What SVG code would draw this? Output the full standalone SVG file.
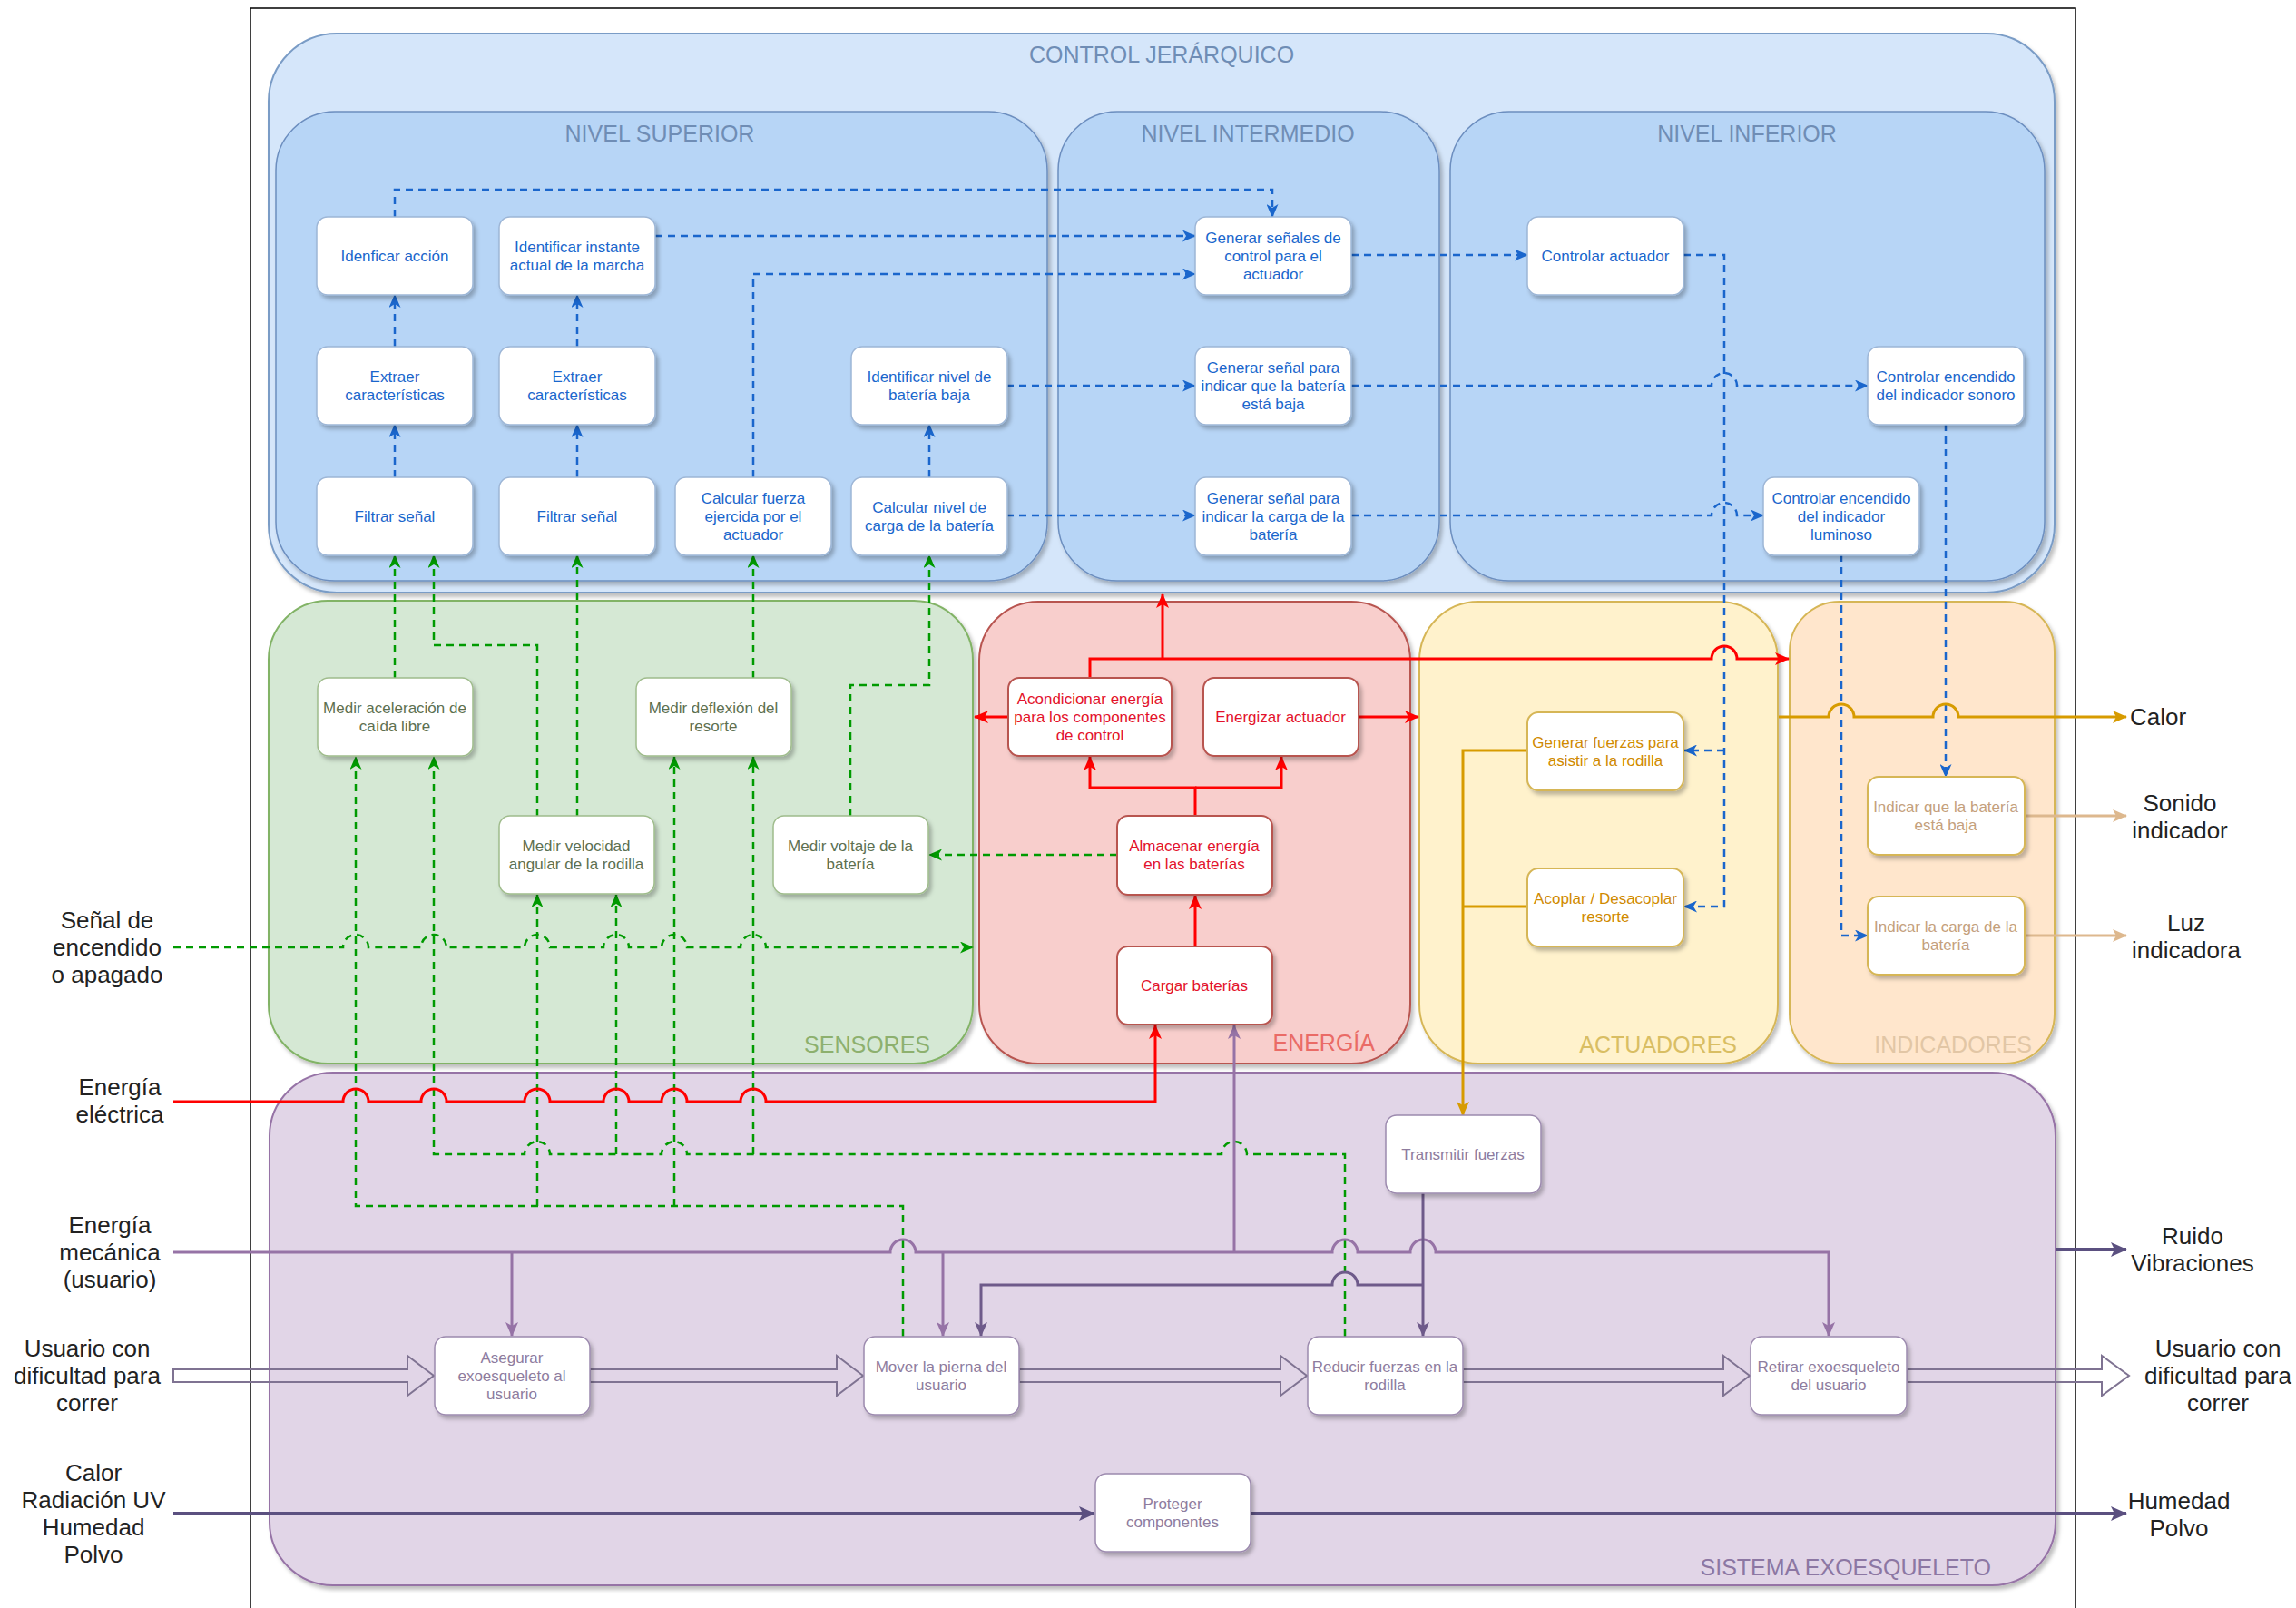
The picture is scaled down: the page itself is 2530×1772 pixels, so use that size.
<svg xmlns="http://www.w3.org/2000/svg" width="2530" height="1772" viewBox="0 0 2530 1772">
<style>
text{font-family:"Liberation Sans",Arial,sans-serif}
.cont{filter:url(#sh)}
.node rect{fill:#fff;filter:url(#sh)}
.node text{font-size:17px;text-anchor:middle}
.ctl rect{stroke:#9DB6D6;stroke-width:1.5}
.ctl text{fill:#1A66CC}
.sen rect{stroke:#9FBC8C;stroke-width:1.5}
.sen text{fill:#5D7050}
.ene rect{stroke:#B85450;stroke-width:2}
.ene text{fill:#E3122B}
.act rect{stroke:#D6B656;stroke-width:2}
.act text{fill:#D08A00}
.ind rect{stroke:#D6B656;stroke-width:2}
.ind text{fill:#C4A07C}
.sys rect{stroke:#9C8AAE;stroke-width:1.5}
.sys text{fill:#8E7C9E}
.clab{font-size:25px}
.olab{font-size:26px;fill:#222;text-anchor:middle}
.c{fill:none}
.cb{stroke:#1A66CC;stroke-width:2.5;stroke-dasharray:8 6}
.cg{stroke:#009A00;stroke-width:2.5;stroke-dasharray:8 6}
.cr{stroke:#FF0000;stroke-width:3}
.cp{stroke:#9673A6;stroke-width:3}
.cd{stroke:#6E5A8A;stroke-width:3}
.ck{stroke:#5B5080;stroke-width:4}
.co{stroke:#D79B00;stroke-width:3}
.ct{stroke:#DDB88E;stroke-width:3}
.ha{fill:none;stroke:#7F7392;stroke-width:2}
</style>
<defs>
<filter id="sh" x="-10%" y="-10%" width="125%" height="125%">
<feDropShadow dx="3" dy="4" stdDeviation="2" flood-color="#000" flood-opacity="0.25"/>
</filter>
<marker id="ab" viewBox="0 0 15 13" refX="14" refY="6.5" markerWidth="15" markerHeight="13" orient="auto" markerUnits="userSpaceOnUse"><path d="M0,0 L15,6.5 L0,13 L4,6.5 Z" fill="#1A66CC"/></marker>
<marker id="ag" viewBox="0 0 15 13" refX="14" refY="6.5" markerWidth="15" markerHeight="13" orient="auto" markerUnits="userSpaceOnUse"><path d="M0,0 L15,6.5 L0,13 L4,6.5 Z" fill="#009A00"/></marker>
<marker id="ar" viewBox="0 0 16 14" refX="15" refY="7" markerWidth="16" markerHeight="14" orient="auto" markerUnits="userSpaceOnUse"><path d="M0,0 L16,7 L0,14 L4,7 Z" fill="#FF0000"/></marker>
<marker id="ap" viewBox="0 0 16 14" refX="15" refY="7" markerWidth="16" markerHeight="14" orient="auto" markerUnits="userSpaceOnUse"><path d="M0,0 L16,7 L0,14 L4,7 Z" fill="#9673A6"/></marker>
<marker id="ad" viewBox="0 0 16 14" refX="15" refY="7" markerWidth="16" markerHeight="14" orient="auto" markerUnits="userSpaceOnUse"><path d="M0,0 L16,7 L0,14 L4,7 Z" fill="#6E5A8A"/></marker>
<marker id="ak" viewBox="0 0 18 16" refX="17" refY="8" markerWidth="18" markerHeight="16" orient="auto" markerUnits="userSpaceOnUse"><path d="M0,0 L18,8 L0,16 L4,8 Z" fill="#5B5080"/></marker>
<marker id="ao" viewBox="0 0 16 14" refX="15" refY="7" markerWidth="16" markerHeight="14" orient="auto" markerUnits="userSpaceOnUse"><path d="M0,0 L16,7 L0,14 L4,7 Z" fill="#D79B00"/></marker>
<marker id="at" viewBox="0 0 16 14" refX="15" refY="7" markerWidth="16" markerHeight="14" orient="auto" markerUnits="userSpaceOnUse"><path d="M0,0 L16,7 L0,14 L4,7 Z" fill="#DDB88E"/></marker>
</defs>
<rect width="2530" height="1772" fill="#fff"/>
<path d="M276,1772 V9 H2287 V1772" fill="none" stroke="#000" stroke-width="1.5"/>

<g id="containers">
<g id="g-control"><rect class="cont" x="296" y="37" width="1968" height="616" rx="75" fill="#D5E6FA" stroke="#7A9CC6" stroke-width="2"/>
<text class="clab" x="1280" y="69" text-anchor="middle" fill="#6F8DB5">CONTROL JERÁRQUICO</text></g>
<g id="g-superior"><rect class="cont" x="304" y="123" width="850" height="517" rx="65" fill="#B7D5F6" stroke="#6C8EBF" stroke-width="1.5"/>
<text class="clab" x="727" y="156" text-anchor="middle" fill="#6F8DB5">NIVEL SUPERIOR</text></g>
<g id="g-intermedio"><rect class="cont" x="1166" y="123" width="420" height="517" rx="65" fill="#B7D5F6" stroke="#6C8EBF" stroke-width="1.5"/>
<text class="clab" x="1375" y="156" text-anchor="middle" fill="#6F8DB5">NIVEL INTERMEDIO</text></g>
<g id="g-inferior"><rect class="cont" x="1598" y="123" width="655" height="517" rx="65" fill="#B7D5F6" stroke="#6C8EBF" stroke-width="1.5"/>
<text class="clab" x="1925" y="156" text-anchor="middle" fill="#6F8DB5">NIVEL INFERIOR</text></g>
<g id="g-sensores"><rect class="cont" x="296" y="662" width="776" height="510" rx="65" fill="#D5E8D4" stroke="#82B366" stroke-width="2"/>
<text class="clab" x="1025" y="1160" text-anchor="end" fill="#8DB06E">SENSORES</text></g>
<g id="g-energia"><rect class="cont" x="1079" y="663" width="475" height="509" rx="65" fill="#F8CECC" stroke="#B85450" stroke-width="2"/>
<text class="clab" x="1515" y="1158" text-anchor="end" fill="#EA6B66">ENERGÍA</text></g>
<g id="g-actuadores"><rect class="cont" x="1564" y="663" width="395" height="509" rx="65" fill="#FFF2CC" stroke="#D6B656" stroke-width="2"/>
<text class="clab" x="1914" y="1160" text-anchor="end" fill="#D9BE63">ACTUADORES</text></g>
<g id="g-indicadores"><rect class="cont" x="1972" y="663" width="292" height="509" rx="55" fill="#FFE6CC" stroke="#D6B656" stroke-width="2"/>
<text class="clab" x="2239" y="1160" text-anchor="end" fill="#E2C6A5">INDICADORES</text></g>
<g id="g-sistema"><rect class="cont" x="297" y="1182" width="1968" height="565" rx="70" fill="#E1D5E7" stroke="#9673A6" stroke-width="2"/>
<text class="clab" x="2194" y="1736" text-anchor="end" fill="#8C77A3">SISTEMA EXOESQUELETO</text></g>
</g>

<g id="connectors" class="c">
<path class="c cb" marker-end="url(#ab)" d="M435,239 V209 H1402 V239"/>
<path class="c cb" marker-end="url(#ab)" d="M722,260 H1317"/>
<path class="c cb" marker-end="url(#ab)" d="M830,526 V302 H1317"/>
<path class="c cb" marker-end="url(#ab)" d="M435,382 V325"/>
<path class="c cb" marker-end="url(#ab)" d="M435,526 V468"/>
<path class="c cb" marker-end="url(#ab)" d="M636,382 V325"/>
<path class="c cb" marker-end="url(#ab)" d="M636,526 V468"/>
<path class="c cb" marker-end="url(#ab)" d="M1024,526 V468"/>
<path class="c cb" marker-end="url(#ab)" d="M1109,425 H1317"/>
<path class="c cb" marker-end="url(#ab)" d="M1109,568 H1317"/>
<path class="c cb" marker-end="url(#ab)" d="M1489,281 H1683"/>
<path class="c cb" marker-end="url(#ab)" d="M1489,425 H1886 A14,14 0 0 1 1914,425 H2058"/>
<path class="c cb" marker-end="url(#ab)" d="M1489,568 H1886 A14,14 0 0 1 1914,568 H1943"/>
<path class="c cb" marker-end="url(#ab)" d="M1855,281 H1900 V999 H1856"/>
<path class="c cb" marker-end="url(#ab)" d="M1900,827 H1856"/>
<path class="c cb" marker-end="url(#ab)" d="M2144,467 V856"/>
<path class="c cb" marker-end="url(#ab)" d="M2029,611 V1031 H2058"/>
<path class="c cg" marker-end="url(#ag)" d="M435,747 V612"/>
<path class="c cg" marker-end="url(#ag)" d="M592,899 V711 H478 V612"/>
<path class="c cg" marker-end="url(#ag)" d="M636,899 V612"/>
<path class="c cg" marker-end="url(#ag)" d="M830,747 V612"/>
<path class="c cg" marker-end="url(#ag)" d="M937,899 V755 H1024 V612"/>
<path class="c cg" marker-end="url(#ag)" d="M1231,942 H1024"/>
<path class="c cg" marker-end="url(#ag)" d="M191,1044 H378 A14,14 0 0 1 406,1044 H464 A14,14 0 0 1 492,1044 H578 A14,14 0 0 1 606,1044 H665 A14,14 0 0 1 693,1044 H729 A14,14 0 0 1 757,1044 H816 A14,14 0 0 1 844,1044 H1072"/>
<path class="c cg" marker-end="url(#ag)" d="M995,1473 V1329 H392 V834"/>
<path class="c cg" marker-end="url(#ag)" d="M592,1329 V986"/>
<path class="c cg" marker-end="url(#ag)" d="M743,1329 V834"/>
<path class="c cg" marker-end="url(#ag)" d="M1482,1473 V1272 H1374 A14,14 0 0 0 1346,1272 H757 A14,14 0 0 0 729,1272 H606 A14,14 0 0 0 578,1272 H478 V834"/>
<path class="c cg" marker-end="url(#ag)" d="M679,1272 V986"/>
<path class="c cg" marker-end="url(#ag)" d="M830,1272 V834"/>
<path class="c cr" marker-end="url(#ar)" d="M191,1214 H378 A14,14 0 0 1 406,1214 H464 A14,14 0 0 1 492,1214 H578 A14,14 0 0 1 606,1214 H665 A14,14 0 0 1 693,1214 H729 A14,14 0 0 1 757,1214 H816 A14,14 0 0 1 844,1214 H1273 V1130"/>
<path class="c cr" marker-end="url(#ar)" d="M1317,1043 V987"/>
<path class="c cr" marker-end="url(#ar)" d="M1317,899 V868 H1201 V834"/>
<path class="c cr" marker-end="url(#ar)" d="M1317,868 H1412 V834"/>
<path class="c cr" marker-end="url(#ar)" d="M1201,747 V726 H1886 A14,14 0 0 1 1914,726 H1971"/>
<path class="c cr" marker-end="url(#ar)" d="M1281,726 V655"/>
<path class="c cr" marker-end="url(#ar)" d="M1111,790 H1074"/>
<path class="c cr" marker-end="url(#ar)" d="M1497,790 H1563"/>
<path class="c co" marker-end="url(#ao)" d="M1683,827 H1612 V1229"/>
<path class="c co" d="M1683,999 H1612"/>
<path class="c co" marker-end="url(#ao)" d="M1960,790 H2015 A14,14 0 0 1 2043,790 H2130 A14,14 0 0 1 2158,790 H2343"/>
<path class="c ct" marker-end="url(#at)" d="M2231,899 H2343"/>
<path class="c ct" marker-end="url(#at)" d="M2231,1031 H2343"/>
<path class="c cp" marker-end="url(#ap)" d="M191,1380 H981 A14,14 0 0 1 1009,1380 H1468 A14,14 0 0 1 1496,1380 H1554 A14,14 0 0 1 1582,1380 H2015 V1472"/>
<path class="c cp" marker-end="url(#ap)" d="M564,1380 V1472"/>
<path class="c cp" marker-end="url(#ap)" d="M1039,1380 V1472"/>
<path class="c cp" marker-end="url(#ap)" d="M1360,1380 V1130"/>
<path class="c cd" marker-end="url(#ad)" d="M1568,1315 V1472"/>
<path class="c cd" marker-end="url(#ad)" d="M1568,1416 H1496 A14,14 0 0 0 1468,1416 H1081 V1472"/>
<path class="c ck" marker-end="url(#ak)" d="M191,1668 H1206"/>
<path class="c ck" marker-end="url(#ak)" d="M1378,1668 H2343"/>
<path class="c ck" marker-end="url(#ak)" d="M2265,1377 H2343"/>
<path class="ha" d="M191,1509 H449 V1494 L478,1516 L449,1538 V1523 H191 Z"/>
<path class="ha" d="M650,1509 H922 V1494 L951,1516 L922,1538 V1523 H650 Z"/>
<path class="ha" d="M1123,1509 H1411 V1494 L1440,1516 L1411,1538 V1523 H1123 Z"/>
<path class="ha" d="M1612,1509 H1899 V1494 L1928,1516 L1899,1538 V1523 H1612 Z"/>
<path class="ha" d="M2101,1509 H2316 V1494 L2346,1516 L2316,1538 V1523 H2101 Z"/>
</g>

<g id="n-idenficar" class="node ctl"><rect x="349" y="239" width="172" height="86" rx="12"/><text x="435" y="288">Idenficar acción</text></g>
<g id="n-instante" class="node ctl"><rect x="550" y="239" width="172" height="86" rx="12"/><text x="636" y="278">Identificar instante<tspan x="636" dy="20">actual de la marcha</tspan></text></g>
<g id="n-extraer1" class="node ctl"><rect x="349" y="382" width="172" height="86" rx="12"/><text x="435" y="421">Extraer<tspan x="435" dy="20">características</tspan></text></g>
<g id="n-extraer2" class="node ctl"><rect x="550" y="382" width="172" height="86" rx="12"/><text x="636" y="421">Extraer<tspan x="636" dy="20">características</tspan></text></g>
<g id="n-identbaja" class="node ctl"><rect x="938" y="382" width="172" height="86" rx="12"/><text x="1024" y="421">Identificar nivel de<tspan x="1024" dy="20">batería baja</tspan></text></g>
<g id="n-filtrar1" class="node ctl"><rect x="349" y="526" width="172" height="86" rx="12"/><text x="435" y="575">Filtrar señal</text></g>
<g id="n-filtrar2" class="node ctl"><rect x="550" y="526" width="172" height="86" rx="12"/><text x="636" y="575">Filtrar señal</text></g>
<g id="n-calcfuerza" class="node ctl"><rect x="744" y="526" width="172" height="86" rx="12"/><text x="830" y="555">Calcular fuerza<tspan x="830" dy="20">ejercida por el</tspan><tspan x="830" dy="20">actuador</tspan></text></g>
<g id="n-calcnivel" class="node ctl"><rect x="938" y="526" width="172" height="86" rx="12"/><text x="1024" y="565">Calcular nivel de<tspan x="1024" dy="20">carga de la batería</tspan></text></g>
<g id="n-gencontrol" class="node ctl"><rect x="1317" y="239" width="172" height="86" rx="12"/><text x="1403" y="268">Generar señales de<tspan x="1403" dy="20">control para el</tspan><tspan x="1403" dy="20">actuador</tspan></text></g>
<g id="n-genbaja" class="node ctl"><rect x="1317" y="382" width="172" height="86" rx="12"/><text x="1403" y="411">Generar señal para<tspan x="1403" dy="20">indicar que la batería</tspan><tspan x="1403" dy="20">está baja</tspan></text></g>
<g id="n-gencarga" class="node ctl"><rect x="1317" y="526" width="172" height="86" rx="12"/><text x="1403" y="555">Generar señal para<tspan x="1403" dy="20">indicar la carga de la</tspan><tspan x="1403" dy="20">batería</tspan></text></g>
<g id="n-ctrlact" class="node ctl"><rect x="1683" y="239" width="172" height="86" rx="12"/><text x="1769" y="288">Controlar actuador</text></g>
<g id="n-ctrlsonoro" class="node ctl"><rect x="2058" y="382" width="172" height="86" rx="12"/><text x="2144" y="421">Controlar encendido<tspan x="2144" dy="20">del indicador sonoro</tspan></text></g>
<g id="n-ctrllum" class="node ctl"><rect x="1943" y="526" width="172" height="86" rx="12"/><text x="2029" y="555">Controlar encendido<tspan x="2029" dy="20">del indicador</tspan><tspan x="2029" dy="20">luminoso</tspan></text></g>

<g id="n-aceleracion" class="node sen"><rect x="350" y="747" width="171" height="86" rx="12"/><text x="435" y="786">Medir aceleración de<tspan x="435" dy="20">caída libre</tspan></text></g>
<g id="n-deflexion" class="node sen"><rect x="701" y="747" width="171" height="86" rx="12"/><text x="786" y="786">Medir deflexión del<tspan x="786" dy="20">resorte</tspan></text></g>
<g id="n-velocidad" class="node sen"><rect x="550" y="899" width="171" height="86" rx="12"/><text x="635" y="938">Medir velocidad<tspan x="635" dy="20">angular de la rodilla</tspan></text></g>
<g id="n-voltaje" class="node sen"><rect x="852" y="899" width="171" height="86" rx="12"/><text x="937" y="938">Medir voltaje de la<tspan x="937" dy="20">batería</tspan></text></g>

<g id="n-acondicionar" class="node ene"><rect x="1111" y="747" width="180" height="86" rx="12"/><text x="1201" y="776">Acondicionar energía<tspan x="1201" dy="20">para los componentes</tspan><tspan x="1201" dy="20">de control</tspan></text></g>
<g id="n-energizar" class="node ene"><rect x="1326" y="747" width="171" height="86" rx="12"/><text x="1411" y="796">Energizar actuador</text></g>
<g id="n-almacenar" class="node ene"><rect x="1231" y="899" width="171" height="87" rx="12"/><text x="1316" y="938">Almacenar energía<tspan x="1316" dy="20">en las baterías</tspan></text></g>
<g id="n-cargar" class="node ene"><rect x="1231" y="1043" width="171" height="86" rx="12"/><text x="1316" y="1092">Cargar baterías</text></g>

<g id="n-generarfuerzas" class="node act"><rect x="1683" y="785" width="172" height="86" rx="12"/><text x="1769" y="824">Generar fuerzas para<tspan x="1769" dy="20">asistir a la rodilla</tspan></text></g>
<g id="n-acoplar" class="node act"><rect x="1683" y="957" width="172" height="86" rx="12"/><text x="1769" y="996">Acoplar / Desacoplar<tspan x="1769" dy="20">resorte</tspan></text></g>

<g id="n-indbaja" class="node ind"><rect x="2058" y="856" width="173" height="86" rx="12"/><text x="2144" y="895">Indicar que la batería<tspan x="2144" dy="20">está baja</tspan></text></g>
<g id="n-indcarga" class="node ind"><rect x="2058" y="988" width="173" height="86" rx="12"/><text x="2144" y="1027">Indicar la carga de la<tspan x="2144" dy="20">batería</tspan></text></g>

<g id="n-asegurar" class="node sys"><rect x="479" y="1473" width="171" height="86" rx="12"/><text x="564" y="1502">Asegurar<tspan x="564" dy="20">exoesqueleto al</tspan><tspan x="564" dy="20">usuario</tspan></text></g>
<g id="n-mover" class="node sys"><rect x="952" y="1473" width="171" height="86" rx="12"/><text x="1037" y="1512">Mover la pierna del<tspan x="1037" dy="20">usuario</tspan></text></g>
<g id="n-reducir" class="node sys"><rect x="1441" y="1473" width="171" height="86" rx="12"/><text x="1526" y="1512">Reducir fuerzas en la<tspan x="1526" dy="20">rodilla</tspan></text></g>
<g id="n-retirar" class="node sys"><rect x="1929" y="1473" width="172" height="86" rx="12"/><text x="2015" y="1512">Retirar exoesqueleto<tspan x="2015" dy="20">del usuario</tspan></text></g>
<g id="n-transmitir" class="node sys"><rect x="1527" y="1229" width="171" height="86" rx="12"/><text x="1612" y="1278">Transmitir fuerzas</text></g>
<g id="n-proteger" class="node sys"><rect x="1207" y="1624" width="171" height="86" rx="12"/><text x="1292" y="1663">Proteger<tspan x="1292" dy="20">componentes</tspan></text></g>

<g id="labels">
<text class="olab" x="118" y="1023">Señal de<tspan x="118" dy="30">encendido</tspan><tspan x="118" dy="30">o apagado</tspan></text>
<text class="olab" x="132" y="1207">Energía<tspan x="132" dy="30">eléctrica</tspan></text>
<text class="olab" x="121" y="1359">Energía<tspan x="121" dy="30">mecánica</tspan><tspan x="121" dy="30">(usuario)</tspan></text>
<text class="olab" x="96" y="1495">Usuario con<tspan x="96" dy="30">dificultad para</tspan><tspan x="96" dy="30">correr</tspan></text>
<text class="olab" x="103" y="1632">Calor<tspan x="103" dy="30">Radiación UV</tspan><tspan x="103" dy="30">Humedad</tspan><tspan x="103" dy="30">Polvo</tspan></text>
<text class="olab" x="2347" y="799" style="text-anchor:start">Calor</text>
<text class="olab" x="2402" y="894">Sonido<tspan x="2402" dy="30">indicador</tspan></text>
<text class="olab" x="2409" y="1026">Luz<tspan x="2409" dy="30">indicadora</tspan></text>
<text class="olab" x="2416" y="1371">Ruido<tspan x="2416" dy="30">Vibraciones</tspan></text>
<text class="olab" x="2444" y="1495">Usuario con<tspan x="2444" dy="30">dificultad para</tspan><tspan x="2444" dy="30">correr</tspan></text>
<text class="olab" x="2401" y="1663">Humedad<tspan x="2401" dy="30">Polvo</tspan></text>
</g>
</svg>
